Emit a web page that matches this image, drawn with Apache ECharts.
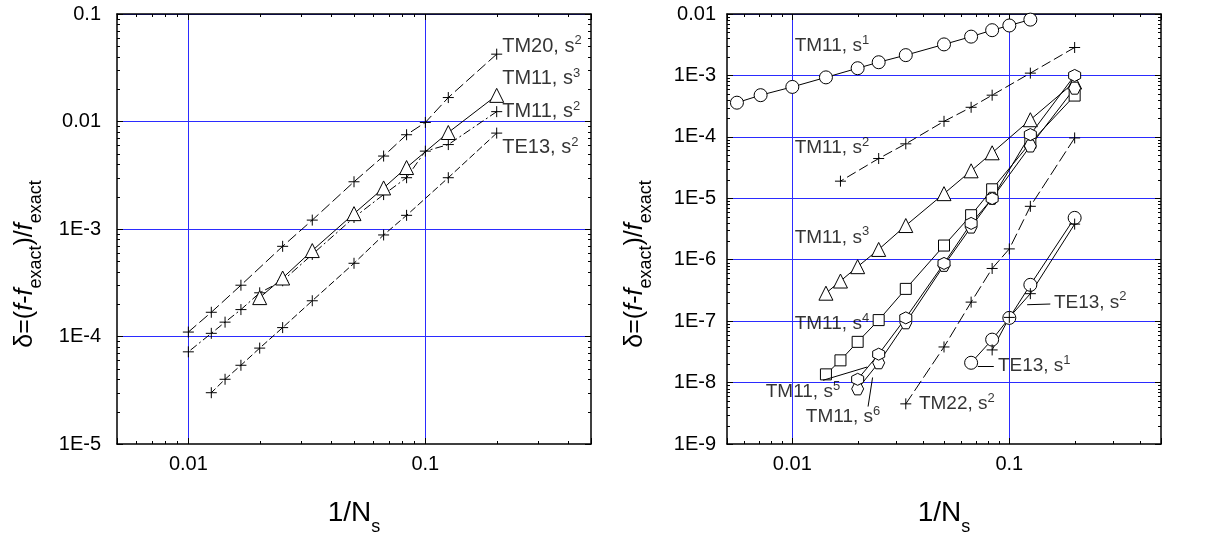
<!DOCTYPE html>
<html><head><meta charset="utf-8">
<script src="https://cdn.jsdelivr.net/npm/echarts@6/dist/echarts.min.js"></script>
<style>html,body{margin:0;padding:0;background:#fff}#c{width:1213px;height:541px}</style>
</head><body><div id="c"></div>
<script>
// ---------------- DATA (N = number of segments, x = 1/N) ----------------
// Left panel
const L_TM20_s2_N = [5, 8, 10, 12, 15, 20, 30, 40, 60, 80, 100];
const L_TM20_s2_d = [0.0423, 0.0167, 0.0098, 0.00753, 0.00477, 0.00275, 0.00121, 6.9e-4, 3.0e-4, 1.68e-4, 1.1e-4];
const L_TM11_s3_N = [5, 8, 12, 15, 20, 30, 40, 50];
const L_TM11_s3_d = [0.0175, 0.0079, 0.00373, 0.00241, 0.00139, 6.3e-4, 3.5e-4, 2.3e-4];
const L_TM11_s2_N = [5, 8, 10, 12, 15, 20, 30, 40, 50, 60, 70, 80, 100];
const L_TM11_s2_d = [0.01235, 0.0061, 0.0053, 0.0030, 0.00209, 0.00128, 5.8e-4, 3.3e-4, 2.55e-4, 1.78e-4, 1.36e-4, 1.07e-4, 7.2e-5];
const L_TE13_s2_N = [5, 8, 12, 15, 20, 30, 40, 50, 60, 70, 80];
const L_TE13_s2_d = [0.0078, 0.0030, 0.00134, 8.8e-4, 4.8e-4, 2.15e-4, 1.21e-4, 7.8e-5, 5.4e-5, 4.0e-5, 3.0e-5];
// Right panel
const R_TM11_s1_N = [8, 10, 12, 15, 20, 30, 40, 50, 70, 100, 140, 180];
const R_TM11_s1_d = [8.1e-3, 6.5e-3, 5.45e-3, 4.28e-3, 3.2e-3, 2.14e-3, 1.64e-3, 1.31e-3, 9.3e-4, 6.5e-4, 4.77e-4, 3.6e-4];
const R_TM11_s2_N = [5, 8, 12, 15, 20, 30, 40, 60];
const R_TM11_s2_d = [2.85e-3, 1.09e-3, 4.77e-4, 3.03e-4, 1.79e-4, 7.7e-5, 4.44e-5, 1.9e-5];
const R_TM11_s3_N = [5, 8, 12, 15, 20, 30, 40, 50, 60, 70];
const R_TM11_s3_d = [7.8e-4, 1.9e-4, 5.5e-5, 2.8e-5, 1.19e-5, 3.6e-6, 1.47e-6, 7.7e-7, 4.5e-7, 2.85e-7];
const R_TM11_s4_N = [5, 8, 12, 15, 20, 30, 40, 50, 60, 70];
const R_TM11_s4_d = [4.7e-4, 8.0e-5, 1.4e-5, 5.3e-6, 1.7e-6, 3.35e-7, 1.04e-7, 4.6e-8, 2.3e-8, 1.36e-8];
const R_TM11_s5_N = [5, 8, 12, 15, 20, 30, 40, 50];
const R_TM11_s5_d = [1.0e-3, 1.09e-4, 9.9e-6, 3.9e-6, 8.7e-7, 1.13e-7, 2.9e-8, 1.13e-8];
const R_TM11_s6_N = [5, 8, 12, 15, 20, 30, 40, 50];
const R_TM11_s6_d = [6.2e-4, 7.1e-5, 1.0e-5, 3.4e-6, 8.1e-7, 9.4e-8, 2.1e-8, 7.9e-9];
const R_TM22_s2_N = [5, 8, 10, 12, 15, 20, 30];
const R_TM22_s2_d = [9.6e-5, 7.4e-6, 1.5e-6, 7.2e-7, 2.04e-7, 3.8e-8, 4.5e-9];
const R_TE13_s1_N = [5, 8, 10, 12, 15];
const R_TE13_s1_d = [4.8e-6, 3.9e-7, 1.13e-7, 5.0e-8, 2.1e-8];
const R_TE13_s2_N = [5, 8, 10, 12];
const R_TE13_s2_d = [3.8e-6, 2.8e-7, 1.15e-7, 3.4e-8];

// Axis ranges
const X_RANGE = [0.005, 0.5];
const L_Y_RANGE = [1e-5, 0.1];
const R_Y_RANGE = [1e-9, 0.01];

// Annotation texts and their anchors (data coordinates, left-middle of text)
const L_LABELS = [
  {text: 'TM20, s{sup|2}', at: [0.21, 0.0501]},
  {text: 'TM11, s{sup|3}', at: [0.21, 0.0249]},
  {text: 'TM11, s{sup|2}', at: [0.21, 0.0124]},
  {text: 'TE13, s{sup|2}', at: [0.21, 0.00569]}
];
const R_LABELS = [
  {text: 'TM11, s{sup|1}', at: [0.0102, 2.99e-3]},
  {text: 'TM11, s{sup|2}', at: [0.0102, 6.65e-5]},
  {text: 'TM11, s{sup|3}', at: [0.0102, 2.31e-6]},
  {text: 'TM11, s{sup|4}', at: [0.0102, 8.97e-8]},
  {text: 'TM11, s{sup|5}', at: [0.0075, 7.0e-9]},
  {text: 'TM11, s{sup|6}', at: [0.01148, 2.79e-9]},
  {text: 'TM22, s{sup|2}', at: [0.0381, 4.5e-9]},
  {text: 'TE13, s{sup|2}', at: [0.1596, 2.02e-7]},
  {text: 'TE13, s{sup|1}', at: [0.0881, 1.9e-8]}
];
const R_ARROWS = [
  [[0.1545, 1.9e-7], [0.1208, 1.85e-7]],
  [[0.0848, 1.85e-8], [0.0716, 1.85e-8]],
  [[0.01385, 1.09e-8], [0.0221, 1.79e-8]],
  [[0.02234, 4.07e-9], [0.02343, 1.21e-8]]
];

// ---------------- CHART ----------------
const FONT = 'Liberation Sans';
const BLUE = '#2b2bff';
const PLUS = 'path://M0,5.5H11M5.5,0V11';
const HEX_A = 'path://M5,0L10,2.9L10,8.7L5,11.6L0,8.7L0,2.9Z';
const HEX_B = 'path://M0,5L2.9,0L8.7,0L11.6,5L8.7,10L2.9,10Z';

function decadeLabel(v) {
  const l = Math.log10(v), e = Math.round(l);
  if (Math.abs(l - e) > 1e-6) return '';
  return e >= -2 ? Math.pow(10, e).toFixed(-e) : '1E' + e;
}
function minorTicks(range) {
  const out = [];
  const a = Math.floor(Math.log10(range[0])), b = Math.ceil(Math.log10(range[1]));
  for (let e = a; e < b; e++) for (let k = 2; k <= 9; k++) {
    const v = k * Math.pow(10, e);
    if (v > range[0] * 1.0001 && v < range[1] * 0.9999) out.push(v);
  }
  return out;
}

const grids = [
  {left: 117, top: 14, width: 474, height: 436},
  {left: 727, top: 14, width: 434, height: 436}
];

function xAxisPair(gi) {
  const base = {
    type: 'log', logBase: 10, gridIndex: gi, min: X_RANGE[0], max: X_RANGE[1],
    axisLine: {show: true, onZero: false, lineStyle: {color: '#000', width: 1.5}},
    axisTick: {show: true, inside: true, length: 6, lineStyle: {color: '#000', width: 1}},
    minorTick: {show: false}, minorSplitLine: {show: false}
  };
  return [
    Object.assign({}, base, {
      position: 'bottom',
      axisLabel: {formatter: decadeLabel, color: '#000', fontFamily: FONT, fontSize: 20, margin: 10},
      splitLine: {show: true, showMinLine: false, showMaxLine: false, lineStyle: {color: BLUE, width: 1}},
      name: '1/N{s|s}', nameLocation: 'middle', nameGap: 46,
      nameTextStyle: {color: '#000', fontFamily: FONT, fontSize: 28,
        rich: {s: {fontFamily: FONT, fontSize: 18, color: '#000', verticalAlign: 'bottom', lineHeight: 46}}}
    }),
    Object.assign({}, base, {position: 'top', axisLabel: {show: false}, splitLine: {show: false}})
  ];
}
function yAxisPair(gi, range, margin) {
  const base = {
    type: 'log', logBase: 10, gridIndex: gi, min: range[0], max: range[1], interval: 1,
    axisLine: {show: true, onZero: false, lineStyle: {color: '#000', width: 1.5}},
    axisTick: {show: true, inside: true, length: 6, lineStyle: {color: '#000', width: 1}},
    minorTick: {show: false}, minorSplitLine: {show: false}
  };
  return [
    Object.assign({}, base, {
      position: 'left',
      axisLabel: {formatter: decadeLabel, color: '#000', fontFamily: FONT, fontSize: 20, margin: margin},
      splitLine: {show: true, showMinLine: false, showMaxLine: false, lineStyle: {color: BLUE, width: 1}},
      name: 'δ=({i|f}-{i|f}{sub|exact})/{i|f}{sub|exact}', nameLocation: 'middle', nameGap: 72,
      nameTextStyle: {color: '#000', fontFamily: FONT, fontSize: 25, padding: [0, 70, 0, 0],
        rich: {
          i: {fontFamily: FONT, fontSize: 25, fontStyle: 'italic', color: '#000'},
          sub: {fontFamily: FONT, fontSize: 18, color: '#000', verticalAlign: 'bottom', lineHeight: 40}
        }}
    }),
    Object.assign({}, base, {position: 'right', axisLabel: {show: false}, splitLine: {show: false}})
  ];
}

function tickRenderer(dir) {
  return function (params, api) {
    const cs = params.coordSys;
    const p = api.coord([api.value(0), api.value(1)]);
    const st = {stroke: '#000', lineWidth: 1};
    if (dir === 'x') {
      const x = Math.round(p[0]) + 0.5;
      return {type: 'group', children: [
        {type: 'line', shape: {x1: x, y1: cs.y + cs.height, x2: x, y2: cs.y + cs.height - 3}, style: st},
        {type: 'line', shape: {x1: x, y1: cs.y, x2: x, y2: cs.y + 3}, style: st}
      ]};
    }
    const y = Math.round(p[1]) + 0.5;
    return {type: 'group', children: [
      {type: 'line', shape: {x1: cs.x, y1: y, x2: cs.x + 3, y2: y}, style: st},
      {type: 'line', shape: {x1: cs.x + cs.width, y1: y, x2: cs.x + cs.width - 3, y2: y}, style: st}
    ]};
  };
}

function mkSeries(gi, N, d, symbol, size, dash, filled) {
  return {
    type: 'line', xAxisIndex: gi * 2, yAxisIndex: gi * 2,
    data: N.map((n, i) => [1 / n, d[i]]),
    symbol: symbol, symbolSize: size, showAllSymbol: true, silent: true,
    lineStyle: {color: '#000', width: 1, type: dash || 'solid'},
    itemStyle: {color: filled ? '#fff' : 'rgba(0,0,0,0)', borderColor: '#000', borderWidth: 1, opacity: 1},
    z: 3
  };
}

function labelSeries(gi, labels, fontSize, arrows) {
  const s = {
    type: 'scatter', xAxisIndex: gi * 2, yAxisIndex: gi * 2, silent: true, z: 5,
    symbol: 'circle', symbolSize: 1, itemStyle: {color: 'rgba(0,0,0,0)'},
    data: labels.map(l => ({name: l.text, value: l.at})),
    label: {show: true, position: 'right', distance: 0, formatter: p => p.name,
      color: '#000', fontFamily: FONT, fontSize: fontSize,
      rich: {sup: {fontFamily: FONT, fontSize: 13, color: '#000', verticalAlign: 'top', lineHeight: 24}}}
  };
  if (arrows) {
    s.markLine = {
      silent: true, symbol: ['none', 'arrow'], symbolSize: [0, 8], animation: false,
      lineStyle: {color: '#000', width: 1, type: 'solid'}, label: {show: false},
      emphasis: {disabled: true},
      data: arrows.map(a => [{coord: a[0]}, {coord: a[1]}])
    };
  }
  return s;
}

function tickSeries(gi, yRange) {
  return [
    {type: 'custom', xAxisIndex: gi * 2, yAxisIndex: gi * 2, silent: true, z: 2,
      renderItem: tickRenderer('x'), data: minorTicks(X_RANGE).map(v => [v, yRange[0]])},
    {type: 'custom', xAxisIndex: gi * 2, yAxisIndex: gi * 2, silent: true, z: 2,
      renderItem: tickRenderer('y'), data: minorTicks(yRange).map(v => [X_RANGE[0], v])}
  ];
}

const option = {
  animation: false,
  backgroundColor: '#fff',
  grid: grids,
  xAxis: [...xAxisPair(0), ...xAxisPair(1)],
  yAxis: [...yAxisPair(0, L_Y_RANGE, 16), ...yAxisPair(1, R_Y_RANGE, 11)],
  series: [
    ...tickSeries(0, L_Y_RANGE),
    ...tickSeries(1, R_Y_RANGE),
    mkSeries(0, L_TM20_s2_N, L_TM20_s2_d, PLUS, 11, [11, 4]),
    mkSeries(0, L_TM11_s2_N, L_TM11_s2_d, PLUS, 11, [8, 3, 2, 3]),
    mkSeries(0, L_TE13_s2_N, L_TE13_s2_d, PLUS, 11, [7, 3]),
    mkSeries(0, L_TM11_s3_N, L_TM11_s3_d, 'triangle', 14, 'solid', true),
    mkSeries(1, R_TM11_s1_N, R_TM11_s1_d, 'circle', 13, 'solid', true),
    mkSeries(1, R_TM11_s2_N, R_TM11_s2_d, PLUS, 11, [10, 4]),
    mkSeries(1, R_TM11_s3_N, R_TM11_s3_d, 'triangle', 14, 'solid', true),
    mkSeries(1, R_TM11_s4_N, R_TM11_s4_d, 'rect', 11, 'solid', true),
    mkSeries(1, R_TM11_s6_N, R_TM11_s6_d, HEX_B, 12, 'solid', true),
    mkSeries(1, R_TM11_s5_N, R_TM11_s5_d, HEX_A, 12, 'solid', true),
    mkSeries(1, R_TM22_s2_N, R_TM22_s2_d, PLUS, 11, [12, 4]),
    mkSeries(1, R_TE13_s1_N, R_TE13_s1_d, 'circle', 13, 'solid', true),
    mkSeries(1, R_TE13_s2_N, R_TE13_s2_d, PLUS, 11, 'solid'),
    labelSeries(0, L_LABELS, 20),
    labelSeries(1, R_LABELS, 19, R_ARROWS)
  ]
};
const chart = echarts.init(document.getElementById('c'), null, {renderer: 'canvas'});
chart.setOption(option);
</script>
</body></html>
